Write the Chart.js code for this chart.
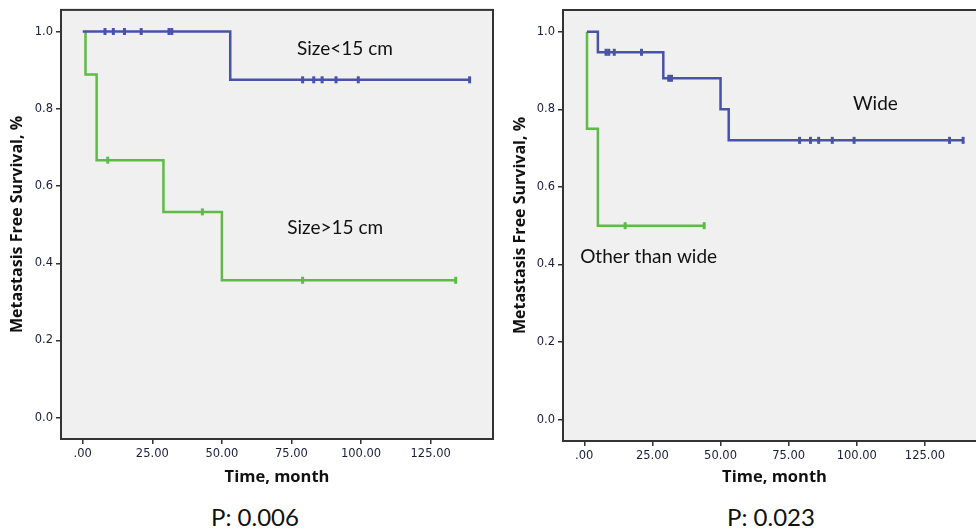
<!DOCTYPE html>
<html>
<head>
<meta charset="utf-8">
<title>Metastasis free survival</title>
<script src="https://cdn.jsdelivr.net/npm/chart.js@4.4.1/dist/chart.umd.min.js"></script>
<style>
  html, body { margin: 0; padding: 0; background: #fff; width: 976px; height: 532px; overflow: hidden; }
  #wrap { position: relative; width: 976px; height: 532px; }
  canvas { position: absolute; top: 0; }
  #c1 { left: 0; }
  #c2 { left: 500px; }
  .pval { position: absolute; top: 502px; width: 200px; text-align: center; font: 24px Lato, sans-serif; color: #111; }
</style>
</head>
<body>
<div id="wrap">
  <canvas id="c1" width="500" height="490"></canvas>
  <canvas id="c2" width="500" height="490"></canvas>
  <div class="pval" style="left:155px">P: 0.006</div>
  <div class="pval" style="left:671px">P: 0.023</div>
</div>
<script>
// axis ticks
var xTicks = [0, 25, 50, 75, 100, 125];
var xTickLabels = ['.00', '25.00', '50.00', '75.00', '100.00', '125.00'];
var yTicks = [0, 0.2, 0.4, 0.6, 0.8, 1.0];
var yTickLabels = ['0.0', '0.2', '0.4', '0.6', '0.8', '1.0'];

// left panel: tumour size
var smallTimes = [0, 53, 139];
var smallSurv = [1.0, 0.875, 0.875];
var smallCensorTimes = [8, 11, 15, 21, 31, 32, 79, 83, 86, 91, 99, 139];
var smallCensorSurv = [1, 1, 1, 1, 1, 1, 0.875, 0.875, 0.875, 0.875, 0.875, 0.875];

var largeTimes = [1, 1, 5, 29, 50, 134];
var largeSurv = [1.0, 0.889, 0.667, 0.533, 0.356, 0.356];
var largeCensorTimes = [9, 43, 79, 134];
var largeCensorSurv = [0.667, 0.533, 0.356, 0.356];

// right panel: margin
var wideTimes = [1, 5, 29, 50, 53, 139];
var wideSurv = [1.0, 0.947, 0.88, 0.80, 0.72, 0.72];
var wideCensorTimes = [8, 9, 11, 21, 31, 32, 79, 83, 86, 91, 99, 134, 139];
var wideCensorSurv = [0.947, 0.947, 0.947, 0.947, 0.88, 0.88, 0.72, 0.72, 0.72, 0.72, 0.72, 0.72, 0.72];

var otherTimes = [1, 1, 5, 44];
var otherSurv = [1.0, 0.75, 0.5, 0.5];
var otherCensorTimes = [15, 44];
var otherCensorSurv = [0.5, 0.5];

var blue = '#4852a8';
var green = '#5dbb46';

function toPoints(xs, ys) {
    var pts = [];
    for (var i = 0; i < xs.length; i++) {
        pts.push({x: xs[i], y: ys[i]});
    }
    return pts;
}

function curve(xs, ys, color) {
    return {
        type: 'line',
        data: toPoints(xs, ys),
        borderColor: color,
        borderWidth: 2.5,
        stepped: 'before',
        pointRadius: 0,
        fill: false
    };
}

// censored cases drawn as small vertical ticks
function censors(xs, ys, color) {
    return {
        type: 'scatter',
        data: toPoints(xs, ys),
        borderColor: color,
        backgroundColor: color,
        pointStyle: 'line',
        rotation: 90,
        pointRadius: 3.5,
        borderWidth: 3
    };
}

// plot background and frame, plus the text labels inside the plot
var panelPlugin = {
    id: 'panel',
    beforeDraw: function(chart) {
        var a = chart.chartArea, ctx = chart.ctx;
        ctx.save();
        ctx.fillStyle = '#f0f0f0';
        ctx.fillRect(a.left, a.top, a.right - a.left, a.bottom - a.top);
        ctx.restore();
    },
    afterDraw: function(chart) {
        var a = chart.chartArea, ctx = chart.ctx;
        ctx.save();
        ctx.strokeStyle = '#333';
        ctx.lineWidth = 2;
        ctx.strokeRect(a.left, a.top, a.right - a.left, a.bottom - a.top);
        var notes = chart.options.plugins.panel.notes;
        ctx.fillStyle = '#111';
        ctx.font = '19px Lato, sans-serif';
        ctx.textBaseline = 'middle';
        ctx.textAlign = 'left';
        notes.forEach(function(n) {
            ctx.fillText(n.text, chart.scales.x.getPixelForValue(n.x), chart.scales.y.getPixelForValue(n.y));
        });
        ctx.restore();
    }
};

function makeChart(id, datasets, notes, yWidth, xHeight, pad, titlePad) {
    return new Chart(document.getElementById(id), {
        data: {datasets: datasets},
        plugins: [panelPlugin],
        options: {
            responsive: false,
            animation: false,
            devicePixelRatio: 1,
            layout: {padding: pad},
            plugins: {
                legend: {display: false},
                tooltip: {enabled: false},
                panel: {notes: notes}
            },
            scales: {
                x: {
                    type: 'linear',
                    min: -7.8,
                    max: 147.4,
                    afterBuildTicks: function(scale) {
                        scale.ticks = xTicks.map(function(v) { return {value: v}; });
                    },
                    afterFit: function(scale) { scale.height = xHeight; },
                    grid: {drawOnChartArea: false, drawTicks: true, tickLength: 5, color: '#333', lineWidth: 1.5},
                    border: {display: true, color: '#333', width: 2},
                    ticks: {
                        padding: 3,
                        color: '#1c1c3c',
                        font: {family: 'DejaVu Sans', size: 11.5},
                        maxRotation: 0,
                        autoSkip: false,
                        callback: function(v, i) { return xTickLabels[i]; }
                    },
                    title: {
                        display: true,
                        text: 'Time, month',
                        color: '#111',
                        font: {family: 'Open Sans', size: 16.5, weight: 'bold'},
                        padding: {top: 0, bottom: 3}
                    }
                },
                y: {
                    type: 'linear',
                    min: -0.055,
                    max: 1.056,
                    afterBuildTicks: function(scale) {
                        scale.ticks = yTicks.map(function(v) { return {value: v}; });
                    },
                    afterFit: function(scale) { scale.width = yWidth; },
                    grid: {drawOnChartArea: false, drawTicks: true, tickLength: 5, color: '#333', lineWidth: 1.5},
                    border: {display: true, color: '#333', width: 2},
                    ticks: {
                        padding: 3,
                        color: '#1c1c3c',
                        font: {family: 'DejaVu Sans', size: 11.5},
                        autoSkip: false,
                        callback: function(v, i) { return yTickLabels[i]; }
                    },
                    title: {
                        display: true,
                        text: 'Metastasis Free Survival, %',
                        color: '#111',
                        font: {family: 'Open Sans', size: 16, weight: 'bold'},
                        padding: {top: titlePad, bottom: 0}
                    }
                }
            }
        }
    });
}

makeChart('c1', [
    curve(smallTimes, smallSurv, blue),
    curve(largeTimes, largeSurv, green),
    censors(smallCensorTimes, smallCensorSurv, blue),
    censors(largeCensorTimes, largeCensorSurv, green)
], [
    {text: 'Size<15 cm', x: 77, y: 0.956},
    {text: 'Size>15 cm', x: 73.5, y: 0.492}
], 61, 51, {left: 0, top: 8, right: 2, bottom: 0}, 8);

makeChart('c2', [
    curve(wideTimes, wideSurv, blue),
    curve(otherTimes, otherSurv, green),
    censors(wideCensorTimes, wideCensorSurv, blue),
    censors(otherCensorTimes, otherCensorSurv, green)
], [
    {text: 'Wide', x: 98.6, y: 0.814},
    {text: 'Other than wide', x: -1.5, y: 0.42}
], 63, 49, {left: 0, top: 10, right: 14, bottom: 0}, 11);
</script>
</body>
</html>
